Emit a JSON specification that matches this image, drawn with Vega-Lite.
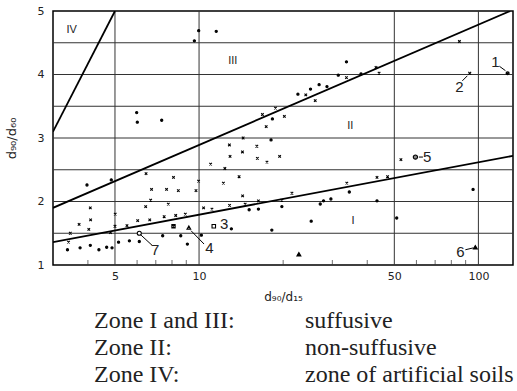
{
  "$schema": "https://vega.github.io/schema/vega-lite/v6.json",
  "background": "white",
  "padding": {"left": 4, "top": 4, "right": 4, "bottom": 2},
  "spacing": 63,
  "bounds": "flush",
  "config": {
    "font": "DejaVu Sans",
    "view": {"stroke": "black", "strokeWidth": 1.5},
    "axis": {"domain": false, "grid": false, "ticks": false, "labelColor": "#222", "titleColor": "#222", "titleFontWeight": "normal", "labelFont": "DejaVu Sans", "titleFont": "DejaVu Sans"}
  },
  "datasets": {
    "hgrid": [{"y": 1.5}, {"y": 2}, {"y": 2.5}, {"y": 3}, {"y": 3.5}, {"y": 4}, {"y": 4.5}],
    "vgrid": [{"x": 5}, {"x": 10}, {"x": 50}, {"x": 100}],
    "minor": [{"x": 4}, {"x": 6}, {"x": 7}, {"x": 8}, {"x": 9}, {"x": 20}, {"x": 30}, {"x": 40}, {"x": 60}, {"x": 70}, {"x": 80}, {"x": 90}],
    "lines": [
      {"line": "A", "x": 3, "y": 3.1}, {"line": "A", "x": 5, "y": 5},
      {"line": "B", "x": 3, "y": 1.9}, {"line": "B", "x": 130, "y": 5},
      {"line": "C", "x": 3, "y": 1.36}, {"line": "C", "x": 133, "y": 2.72}
    ],
    "points": [
      {"x": 3.38, "y": 1.24, "m": "dot"}, {"x": 3.75, "y": 1.27, "m": "dot"}, {"x": 4.08, "y": 1.31, "m": "dot"},
      {"x": 4.38, "y": 1.24, "m": "dot"}, {"x": 4.67, "y": 1.28, "m": "dot"}, {"x": 4.88, "y": 1.27, "m": "dot"},
      {"x": 5.15, "y": 1.36, "m": "dot"}, {"x": 5.63, "y": 1.38, "m": "dot"}, {"x": 6.11, "y": 1.37, "m": "dot"},
      {"x": 7.41, "y": 1.46, "m": "dot"}, {"x": 8.6, "y": 1.46, "m": "dot"}, {"x": 10.19, "y": 1.47, "m": "dot"},
      {"x": 9.08, "y": 1.33, "m": "dot"}, {"x": 13.05, "y": 1.57, "m": "dot"}, {"x": 18.22, "y": 1.55, "m": "dot"},
      {"x": 15.11, "y": 1.87, "m": "dot"}, {"x": 16.31, "y": 1.88, "m": "dot"}, {"x": 19.79, "y": 1.92, "m": "dot"},
      {"x": 27.15, "y": 1.96, "m": "dot"}, {"x": 27.9, "y": 2.01, "m": "dot"}, {"x": 29.65, "y": 2.04, "m": "dot"},
      {"x": 34.5, "y": 2.15, "m": "dot"}, {"x": 43.35, "y": 2.01, "m": "dot"}, {"x": 25.2, "y": 1.69, "m": "dot"},
      {"x": 51.0, "y": 1.74, "m": "dot"}, {"x": 95.7, "y": 2.19, "m": "dot"}, {"x": 3.97, "y": 2.26, "m": "dot"},
      {"x": 4.85, "y": 2.34, "m": "dot"}, {"x": 5.98, "y": 3.4, "m": "dot"}, {"x": 6.01, "y": 3.25, "m": "dot"},
      {"x": 7.35, "y": 3.28, "m": "dot"}, {"x": 9.62, "y": 4.53, "m": "dot"}, {"x": 9.97, "y": 4.69, "m": "dot"},
      {"x": 11.52, "y": 4.68, "m": "dot"}, {"x": 33.7, "y": 4.2, "m": "dot"}, {"x": 31.5, "y": 3.99, "m": "dot"},
      {"x": 28.7, "y": 3.81, "m": "dot"}, {"x": 26.9, "y": 3.84, "m": "dot"}, {"x": 25.06, "y": 3.77, "m": "dot"},
      {"x": 22.59, "y": 3.69, "m": "dot"}, {"x": 18.3, "y": 3.3, "m": "dot"}, {"x": 18.1, "y": 2.97, "m": "dot"},
      {"x": 38.0, "y": 4.01, "m": "dot"},
      {"x": 4.08, "y": 1.9, "m": "cross"}, {"x": 3.72, "y": 1.64, "m": "cross"}, {"x": 4.09, "y": 1.71, "m": "cross"},
      {"x": 4.03, "y": 1.56, "m": "cross"}, {"x": 3.46, "y": 1.5, "m": "cross"}, {"x": 3.41, "y": 1.36, "m": "cross"},
      {"x": 5.01, "y": 1.8, "m": "cross"}, {"x": 5.0, "y": 1.61, "m": "cross"}, {"x": 4.82, "y": 1.51, "m": "cross"},
      {"x": 5.52, "y": 1.62, "m": "cross"}, {"x": 6.03, "y": 1.7, "m": "cross"}, {"x": 6.66, "y": 1.71, "m": "cross"},
      {"x": 7.5, "y": 1.76, "m": "cross"}, {"x": 6.46, "y": 2.44, "m": "cross"}, {"x": 6.76, "y": 2.19, "m": "cross"},
      {"x": 7.65, "y": 2.19, "m": "cross"}, {"x": 6.71, "y": 2.02, "m": "cross"}, {"x": 6.44, "y": 1.92, "m": "cross"},
      {"x": 8.43, "y": 2.17, "m": "cross"}, {"x": 9.75, "y": 2.17, "m": "cross"}, {"x": 9.96, "y": 2.32, "m": "cross"},
      {"x": 8.1, "y": 2.38, "m": "cross"}, {"x": 7.76, "y": 1.96, "m": "cross"}, {"x": 8.25, "y": 1.78, "m": "cross"},
      {"x": 8.93, "y": 1.8, "m": "cross"}, {"x": 10.38, "y": 1.9, "m": "cross"}, {"x": 11.12, "y": 1.88, "m": "cross"},
      {"x": 12.86, "y": 1.94, "m": "cross"}, {"x": 14.62, "y": 1.96, "m": "cross"}, {"x": 16.31, "y": 2.01, "m": "cross"},
      {"x": 19.79, "y": 2.02, "m": "cross"}, {"x": 11.0, "y": 2.59, "m": "cross"}, {"x": 12.37, "y": 2.52, "m": "cross"},
      {"x": 13.91, "y": 2.39, "m": "cross"}, {"x": 12.22, "y": 2.29, "m": "cross"}, {"x": 14.32, "y": 2.09, "m": "cross"},
      {"x": 12.84, "y": 2.89, "m": "cross"}, {"x": 14.38, "y": 3.0, "m": "cross"}, {"x": 16.1, "y": 2.87, "m": "cross"},
      {"x": 12.91, "y": 2.71, "m": "cross"}, {"x": 14.3, "y": 2.78, "m": "cross"}, {"x": 16.17, "y": 2.68, "m": "cross"},
      {"x": 17.5, "y": 2.62, "m": "cross"}, {"x": 19.43, "y": 2.71, "m": "cross"}, {"x": 21.5, "y": 2.13, "m": "cross"},
      {"x": 33.8, "y": 2.29, "m": "cross"}, {"x": 43.35, "y": 2.38, "m": "cross"}, {"x": 47.3, "y": 2.39, "m": "cross"},
      {"x": 52.8, "y": 2.66, "m": "cross"}, {"x": 85.5, "y": 4.52, "m": "cross"}, {"x": 16.86, "y": 3.37, "m": "cross"},
      {"x": 17.39, "y": 3.18, "m": "cross"}, {"x": 18.77, "y": 3.47, "m": "cross"}, {"x": 20.2, "y": 3.34, "m": "cross"},
      {"x": 24.1, "y": 3.68, "m": "cross"}, {"x": 26.05, "y": 3.59, "m": "cross"}, {"x": 33.7, "y": 3.95, "m": "cross"},
      {"x": 43.0, "y": 4.11, "m": "cross"}, {"x": 44.1, "y": 4.02, "m": "cross"},
      {"x": 127.2, "y": 4.02, "m": "otimes"}, {"x": 93.1, "y": 4.02, "m": "xbig"},
      {"x": 11.29, "y": 1.61, "m": "square"}, {"x": 9.19, "y": 1.59, "m": "tri_open"},
      {"x": 59.5, "y": 2.7, "m": "circle_dot"}, {"x": 97.5, "y": 1.28, "m": "tri_filled"},
      {"x": 6.11, "y": 1.5, "m": "circle_open"}, {"x": 22.77, "y": 1.17, "m": "tri_filled"},
      {"x": 8.1, "y": 1.61, "m": "boxx"}
    ],
    "leaders": [
      {"x": 118.9, "y": 4.13, "x2": 125, "y2": 4.06},
      {"x": 87.6, "y": 3.9, "x2": 91.3, "y2": 3.98},
      {"x": 9.36, "y": 1.54, "x2": 10.42, "y2": 1.33},
      {"x": 61.2, "y": 2.7, "x2": 63.3, "y2": 2.7},
      {"x": 89.8, "y": 1.24, "x2": 96, "y2": 1.27},
      {"x": 6.2, "y": 1.47, "x2": 6.79, "y2": 1.31}
    ],
    "numbers": [
      {"x": 115, "y": 4.19, "t": "1"}, {"x": 85.5, "y": 3.81, "t": "2"}, {"x": 12.29, "y": 1.65, "t": "3"},
      {"x": 10.9, "y": 1.26, "t": "4"}, {"x": 65.6, "y": 2.7, "t": "5"}, {"x": 86.2, "y": 1.21, "t": "6"},
      {"x": 6.96, "y": 1.23, "t": "7"}
    ],
    "zones": [
      {"x": 3.5, "y": 4.7, "t": "IV"}, {"x": 13.2, "y": 4.21, "t": "III"},
      {"x": 34.8, "y": 3.19, "t": "II"}, {"x": 35.6, "y": 1.69, "t": "I"}
    ],
    "legendText": [
      {"row": 1, "col": "zone", "text": "Zone I and III:"}, {"row": 1, "col": "desc", "text": "suffusive"},
      {"row": 2, "col": "zone", "text": "Zone II:"}, {"row": 2, "col": "desc", "text": "non-suffusive"},
      {"row": 3, "col": "zone", "text": "Zone IV:"}, {"row": 3, "col": "desc", "text": "zone of artificial soils"}
    ]
  },
  "vconcat": [
    {
      "width": 460,
      "height": 254,
      "layer": [
        {
          "data": {"name": "hgrid"},
          "mark": {"type": "rule", "color": "#333", "strokeWidth": 1},
          "encoding": {
            "y": {"field": "y", "type": "quantitative",
              "scale": {"domain": [1, 5], "nice": false},
              "axis": {
                "values": [1, 2, 3, 4, 5],
                "labelExpr": "'' + datum.value",
                "labelPadding": 9, "labelFontSize": 11,
                "title": "d₉₀/d₆₀", "titleFontSize": 13, "titlePadding": 19
              }}
          }
        },
        {
          "data": {"name": "vgrid"},
          "mark": {"type": "rule", "color": "#333", "strokeWidth": 1},
          "encoding": {
            "x": {"field": "x", "type": "quantitative",
              "scale": {"type": "log", "domain": [3, 133], "nice": false},
              "axis": {
                "values": [5, 10, 50, 100],
                "labelExpr": "'' + datum.value",
                "labelPadding": 5, "labelFontSize": 11,
                "title": "d₉₀/d₁₅", "titleFontSize": 12, "titlePadding": 10
              }}
          }
        },
        {
          "data": {"name": "minor"},
          "mark": {"type": "tick", "orient": "vertical", "color": "#333", "size": 10, "thickness": 1, "clip": true},
          "encoding": {
            "x": {"field": "x", "type": "quantitative"},
            "y": {"datum": 1}
          }
        },
        {
          "data": {"name": "lines"},
          "mark": {"type": "line", "color": "black", "strokeWidth": 1.8, "clip": true},
          "encoding": {
            "x": {"field": "x", "type": "quantitative"},
            "y": {"field": "y", "type": "quantitative"},
            "detail": {"field": "line", "type": "nominal"}
          }
        },
        {
          "data": {"name": "leaders"},
          "mark": {"type": "rule", "color": "black", "strokeWidth": 1},
          "encoding": {
            "x": {"field": "x", "type": "quantitative"},
            "y": {"field": "y", "type": "quantitative"},
            "x2": {"field": "x2"},
            "y2": {"field": "y2"}
          }
        },
        {
          "data": {"name": "points"},
          "mark": {"type": "point", "filled": true, "stroke": "black", "strokeWidth": 1.1, "opacity": 1},
          "encoding": {
            "x": {"field": "x", "type": "quantitative"},
            "y": {"field": "y", "type": "quantitative"},
            "shape": {"field": "m", "type": "nominal", "legend": null,
              "scale": {
                "domain": ["dot", "cross", "xbig", "otimes", "boxx", "square", "tri_open", "tri_filled", "circle_open", "circle_dot"],
                "range": ["circle", "M-1,-1L1,1M-1,1L1,-1", "M-1,-1L1,1M-1,1L1,-1",
                  "M1,0A1,1,0,1,1,-1,0A1,1,0,1,1,1,0ZM-0.7,-0.7L0.7,0.7M-0.7,0.7L0.7,-0.7",
                  "M-1,-1H1V1H-1ZM-1,-1L1,1M-1,1L1,-1", "square", "triangle-up", "triangle-up", "circle", "circle"]
              }},
            "size": {"field": "m", "type": "nominal", "legend": null,
              "scale": {
                "domain": ["dot", "cross", "xbig", "otimes", "boxx", "square", "tri_open", "tri_filled", "circle_open", "circle_dot"],
                "range": [5, 18, 36, 55, 30, 45, 45, 40, 55, 30]
              }},
            "fill": {"field": "m", "type": "nominal", "legend": null,
              "scale": {
                "domain": ["dot", "cross", "xbig", "otimes", "boxx", "square", "tri_open", "tri_filled", "circle_open", "circle_dot"],
                "range": ["black", "black", "black", "white", "white", "white", "white", "black", "white", "#888888"]
              }}
          }
        },
        {
          "data": {"name": "numbers"},
          "mark": {"type": "text", "font": "Liberation Sans", "fontSize": 15, "fill": "#222", "align": "center", "baseline": "middle"},
          "encoding": {
            "x": {"field": "x", "type": "quantitative"},
            "y": {"field": "y", "type": "quantitative"},
            "text": {"field": "t"}
          }
        },
        {
          "data": {"name": "zones"},
          "mark": {"type": "text", "font": "Liberation Sans", "fontSize": 11, "fill": "#222", "align": "center", "baseline": "middle"},
          "encoding": {
            "x": {"field": "x", "type": "quantitative"},
            "y": {"field": "y", "type": "quantitative"},
            "text": {"field": "t"}
          }
        }
      ]
    },
    {
      "width": 460,
      "height": 54,
      "view": {"stroke": null},
      "data": {"name": "legendText"},
      "mark": {"type": "text", "font": "Liberation Serif", "fontSize": 24, "fill": "#222", "align": "left", "baseline": "alphabetic"},
      "encoding": {
        "x": {"field": "col", "type": "nominal", "axis": null,
          "scale": {"type": "point", "domain": ["zone", "desc"], "range": [41, 252], "padding": 0}},
        "y": {"field": "row", "type": "ordinal", "axis": null,
          "scale": {"type": "point", "range": [0, 54], "padding": 0}},
        "text": {"field": "text"}
      }
    }
  ]
}
